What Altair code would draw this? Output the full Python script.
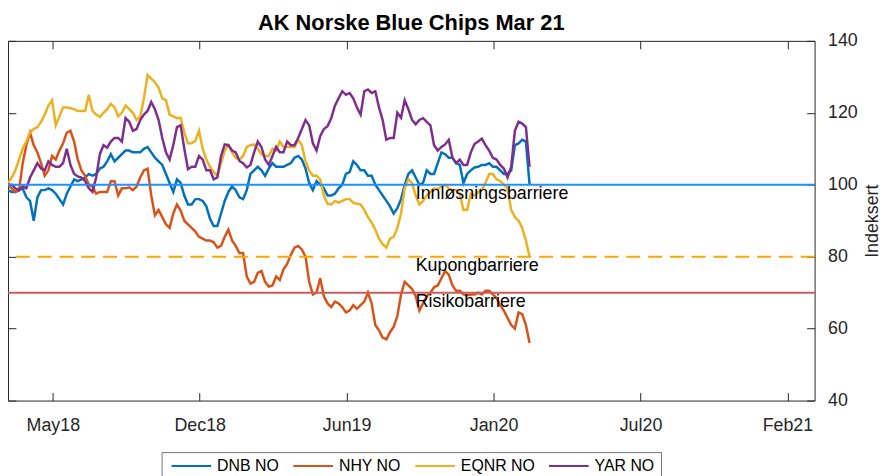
import altair as alt
import pandas as pd

# ---- data (sampled every 5 days from 2018-03-20) ----
start_date = "2018-03-20"
n_points = 143
dates = pd.date_range(start_date, periods=n_points, freq="5D").strftime("%Y-%m-%d").tolist()

dnb = [98.5, 98, 98, 98.5, 99, 96.5, 95.5, 90, 96.5, 98.5,
       98.5, 99, 98.5, 97.5, 96, 94.5, 97.5, 99.5, 101.5, 101,
       101.5, 102, 103, 102.5, 103, 104.5, 105, 106.5, 108.5, 106.5,
       107.5, 108.5, 109.5, 109.5, 109, 109, 109, 110, 110.5, 109,
       107.5, 106.5, 105.5, 103, 100.5, 98, 101.5, 100.5, 97, 94.5,
       94.5, 96, 96, 95.5, 94, 90.5, 88.5, 88.5, 92, 95.5,
       98, 99.5, 98.5, 96.5, 96, 98.5, 103, 104, 105, 104,
       102.5, 104.5, 106, 105, 105, 105, 105.5, 106, 107.5, 108,
       107, 104.5, 100.5, 98.5, 101, 100, 99, 97, 97, 97.5,
       99, 100, 103, 103.5, 106.5, 105.5, 104, 104, 102.5, 102.5,
       100, 98.5, 97, 95.5, 94, 92, 93.5, 96, 100, 103,
       104, 102, 100, 100.5, 104, 103, 103, 106, 109, 108.5,
       107.5, 107.5, 106, 105.5, 100.5, 103, 104, 104.8, 105, 105.5,
       105.5, 106, 105, 105, 104, 103, 103, 104, 111, 111.5,
       112.5, 112, 100]
nhy = [100, 99, 98, 98.5, 106, 111, 114.5, 111, 109, 106,
       102.5, 104, 108, 107, 109.5, 111.5, 114.5, 115, 112, 107,
       104, 102.5, 100, 99.5, 97.5, 98, 98, 98, 101, 101,
       97, 99, 99, 99.3, 98.5, 99.5, 102, 104, 104.5, 97,
       91.5, 93, 91, 89, 88, 92, 94.5, 92.8, 90, 89,
       88, 87, 85.5, 85, 84.5, 84.5, 84, 82.5, 83, 85.5,
       87.5, 84.5, 83, 81, 81, 74.5, 72.5, 73, 75.5, 76,
       73, 71.7, 72, 74.5, 73.5, 76.5, 78, 80.5, 82.5, 83,
       82, 80, 73, 69.5, 70, 74, 69, 67, 66, 67.5,
       67, 66, 64.5, 65, 66.5, 65.5, 66.5, 67.5, 70, 67,
       61, 59.5, 57.5, 57, 59, 60.5, 63.5, 69.5, 73, 72,
       71, 69, 65, 67, 69, 70, 71.5, 72, 74, 76,
       75, 72, 70.5, 70.5, 69.5, 69.3, 69.5, 69.5, 70, 69.5,
       70.5, 70.5, 69.5, 68.5, 66.5, 65, 63, 61, 60, 64.5,
       64, 61, 56]
eqnr = [100.5, 102, 104, 107, 110, 112, 114.5, 115.5, 116, 117.5,
        119.5, 122, 123.5, 116.5, 119, 121.5, 121.5, 121.3, 121, 120.5,
        120.5, 120.5, 125, 120.5, 119.5, 118.8, 120, 121, 122.5, 121.5,
        119, 120, 122, 121, 120, 118, 119, 124, 130.5, 129.5,
        128.5, 127, 124, 123.5, 119.5, 119, 118.5, 118.6, 114.5, 111.5,
        111.5, 112.2, 115, 110, 107, 105, 103.5, 102.5, 106, 109.5,
        111, 109, 107.5, 107, 108, 110.5, 111, 111.2, 110, 108.5,
        108, 108, 110, 109.5, 112, 110.5, 110.5, 110.5, 110.5, 112.5,
        111, 106.5, 104, 102.5, 102.5, 101.5, 97, 94.7, 94.5, 95.5,
        95, 95.5, 96, 96, 95, 94.7, 94.5, 93, 91, 89.5,
        87.5, 85, 83.5, 82.5, 85, 85.5, 88, 92, 99, 101.5,
        100.5, 97, 94.5, 95.5, 97, 98, 99, 98.8, 99.5, 100,
        99, 98.5, 98.5, 97.5, 93, 93, 97.5, 97, 98, 98.5,
        100.5, 103, 103, 101.5, 101, 100, 99, 93, 91, 90,
        88, 84.5, 80]
yar = [100, 100, 99, 98.5, 99.5, 99, 102, 104, 106, 104.5,
       104, 106.5, 105.5, 105, 105, 106, 110, 105.5, 103, 102.3,
       102, 101, 99, 98, 102, 108.5, 111, 110.3, 112, 113,
       113, 112, 118.5, 117.5, 115, 115.5, 118, 119.5, 120.5, 123,
       121, 118, 113, 109, 107, 111, 116, 116.5, 110, 104.3,
       105, 105, 108, 107, 104, 104, 101.5, 102, 108, 111.2,
       111, 109.5, 109, 106.6, 106, 104.8, 105.5, 109, 112, 110.5,
       107, 105.5, 108, 110.5, 109, 109, 112, 111, 111, 113,
       115.5, 118, 116.5, 111.5, 109.5, 113.5, 115.5, 116.3, 118.5, 122,
       124, 126, 125, 125.5, 124, 121.5, 119.5, 126, 126.5, 125.5,
       126, 121.5, 118, 112.5, 113, 113, 120, 118.6, 123.5, 121,
       118, 116.8, 118, 118.5, 117.5, 116.5, 111, 109.5, 110.5, 111.2,
       112.5, 107.5, 106, 107, 105.5, 105.5, 109, 111.3, 112, 112.8,
       111, 109.5, 107.5, 107, 105.5, 104.5, 102, 105, 115, 117.5,
       117, 116, 105]

series_names = ["DNB NO", "NHY NO", "EQNR NO", "YAR NO"]
series_colors = ["#0072BD", "#D95319", "#EDB120", "#7E2F8E"]

barrier_levels = [100, 80, 70]
barrier_names = ["Innløsningsbarriere", "Kupongbarriere", "Risikobarriere"]
barrier_label_y = [95.9, 76.0, 66.0]
barrier_label_date = "2019-09-26"

y_ticks = [40, 60, 80, 100, 120, 140]
x_tick_dates = [(2018, 5, 20), (2018, 12, 6), (2019, 6, 24),
                (2020, 1, 10), (2020, 7, 28), (2021, 2, 13)]
x_domain = [(2018, 3, 20), (2021, 3, 22)]

# ---- build tables ----
values = dnb + nhy + eqnr + yar
df = pd.DataFrame({
    "date": dates * 4,
    "value": values,
    "series": [s for s in series_names for _ in range(n_points)],
})


def dt(t):
    return alt.DateTime(year=t[0], month=t[1], date=t[2], utc=True)


x_scale = alt.Scale(domain=[dt(x_domain[0]), dt(x_domain[1])])
y_scale = alt.Scale(domain=[40, 140], nice=False, zero=False)
tick_vals = [dt(t) for t in x_tick_dates]

ax_col = "#262626"

x_bottom = alt.Axis(orient="bottom", values=tick_vals,
                    labelExpr="utcFormat(datum.value, '%b%y')",
                    offset=-8, tickSize=8, domain=False, grid=False,
                    labelPadding=16, labelFontSize=18, labelColor=ax_col,
                    tickColor=ax_col, title=None, labelFlush=False)
y_right = alt.Axis(orient="right", values=y_ticks, offset=-8, tickSize=8,
                   domain=False, grid=False, labelPadding=13, labelFontSize=18,
                   labelColor=ax_col, tickColor=ax_col, title="Indeksert",
                   titleAngle=270, titleFontSize=18, titleFontWeight="normal",
                   titleColor=ax_col, titlePadding=24, labelFlush=False)
x_top = alt.Axis(orient="top", values=tick_vals, labels=False, offset=-8,
                 tickSize=8, domain=False, grid=False, tickColor=ax_col,
                 title=None)
y_left = alt.Axis(orient="left", values=y_ticks, labels=False, offset=-8,
                  tickSize=8, domain=False, grid=False, tickColor=ax_col,
                  title=None)

lines = alt.Chart(df).mark_line(strokeWidth=2.5, clip=True).encode(
    x=alt.X("date:T", scale=x_scale, axis=x_bottom),
    y=alt.Y("value:Q", scale=y_scale, axis=y_right),
    color=alt.Color("series:N",
                    scale=alt.Scale(domain=series_names, range=series_colors),
                    sort=series_names,
                    legend=alt.Legend(orient="none", legendX=155, legendY=415,
                                      direction="horizontal", title=None,
                                      symbolType="M-5,0H5", symbolSize=64,
                                      symbolOffset=16,
                                      symbolStrokeWidth=2, labelFontSize=16,
                                      labelColor="#000000", labelOffset=18,
                                      columnPadding=10, padding=6,
                                      strokeColor="#777777", fillColor="white")),
    order=alt.Order("date:T"),
)

mirror = alt.Chart(pd.DataFrame({"date": [dates[0]], "value": [100]})).mark_point(opacity=0).encode(
    x=alt.X("date:T", scale=x_scale, axis=x_top),
    y=alt.Y("value:Q", scale=y_scale, axis=y_left),
)

rule_styles = [
    dict(color="#1E90FF", strokeWidth=2),
    dict(color="#FFA500", strokeWidth=2, strokeDash=[14, 8]),
    dict(color="#CD5C5C", strokeWidth=2),
]
rules = []
for lvl, st in zip(barrier_levels, rule_styles):
    rules.append(
        alt.Chart(pd.DataFrame({"level": [lvl]})).mark_rule(**st).encode(
            y=alt.Y("level:Q", scale=y_scale, axis=None)
        )
    )

lab_df = pd.DataFrame({"date": [barrier_label_date] * 3, "y": barrier_label_y,
                       "name": barrier_names})
labels = alt.Chart(lab_df).mark_text(align="left", baseline="alphabetic",
                                     fontSize=18, color="#000000").encode(
    x=alt.X("date:T", scale=x_scale, axis=None),
    y=alt.Y("y:Q", scale=y_scale, axis=None),
    text="name:N",
)

chart = alt.layer(lines, mirror, *rules, labels).resolve_axis(
    x="independent", y="independent"
).properties(
    width=814, height=363,
    title=alt.TitleParams("AK Norske Blue Chips Mar 21", fontSize=22,
                          fontWeight="bold", color="#000000", anchor="middle",
                          offset=-3),
    autosize=alt.AutoSizeParams(type="none"),
    padding={"left": 0, "top": 31, "right": 67, "bottom": 76},
).configure(font="Liberation Sans").configure_view(
    stroke=ax_col, strokeWidth=1
)

chart.save("out.html", embed_options={"renderer": "svg", "actions": False})
